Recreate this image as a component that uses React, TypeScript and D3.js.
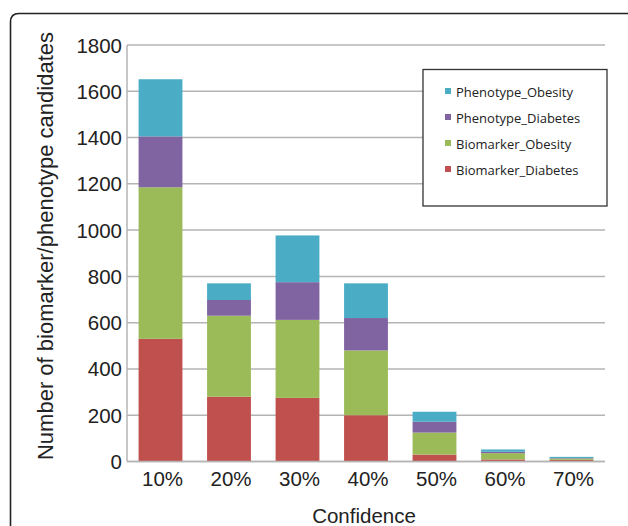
import React from "react";
import * as d3 from "d3";

const categories = ["10%", "20%", "30%", "40%", "50%", "60%", "70%"];
const biomarkerDiabetes = [530, 280, 275, 200, 30, 9, 7];
const biomarkerObesity = [655, 350, 337, 280, 95, 27, 6];
const phenotypeDiabetes = [220, 68, 163, 140, 47, 6, 2];
const phenotypeObesity = [247, 72, 202, 150, 43, 10, 5];
const yTicks = [0, 200, 400, 600, 800, 1000, 1200, 1400, 1600, 1800];
const seriesNames = ["Biomarker_Diabetes", "Biomarker_Obesity", "Phenotype_Diabetes", "Phenotype_Obesity"];
const seriesColors = ["#C0504D", "#9BBB59", "#8064A2", "#4BACC6"];

export default function App() {
  const W = 628, H = 526;
  const axisX = 127, plotRight = 605;
  const rows = categories.map((c, i) => ({
    cat: c,
    Biomarker_Diabetes: biomarkerDiabetes[i],
    Biomarker_Obesity: biomarkerObesity[i],
    Phenotype_Diabetes: phenotypeDiabetes[i],
    Phenotype_Obesity: phenotypeObesity[i],
  }));
  const stacked = d3.stack<any>().keys(seriesNames)(rows);
  const x = d3.scaleBand().domain(categories).range([126.25, 605.75]).paddingInner(0.36).paddingOuter(0.18);
  const y = d3.scaleLinear().domain([0, 1800]).range([461.5, 45]);
  const font = "'Liberation Sans', Arial, sans-serif";
  const legendFont = "'Open Sans', 'Noto Sans', sans-serif";
  const legendOrder = [3, 2, 1, 0];

  return (
    <svg width={W} height={H} style={{ position: "absolute", left: 0, top: 0 }}>
      <rect width={W} height={H} fill="#fff" />
      <path d={`M10.5,540 L10.5,22 Q10.5,13.5 19,13.5 L640,13.5`} fill="none" stroke="#222" strokeWidth={1.6} />
      {yTicks.map((t) => (
        <g key={t}>
          <line x1={axisX} x2={plotRight} y1={y(t)} y2={y(t)} stroke="#b4b4b4" strokeWidth={1.5} />
          <text x={122} y={y(t) + 7.5} textAnchor="end" fontFamily={font} fontSize={20.5} fill="#222">{t}</text>
        </g>
      ))}
      <line x1={axisX} x2={axisX} y1={y(1800)} y2={y(0)} stroke="#b4b4b4" strokeWidth={1.5} />
      {stacked.map((s, si) => (
        <g key={s.key} fill={seriesColors[si]}>
          {s.map((d: any, i: number) => (
            <rect key={i} x={x(categories[i])} width={x.bandwidth()} y={y(d[1])} height={Math.max(0, y(d[0]) - y(d[1]))} />
          ))}
        </g>
      ))}
      <line x1={axisX} x2={plotRight} y1={y(0)} y2={y(0)} stroke="#b4b4b4" strokeWidth={1.5} />
      {categories.map((c) => (
        <text key={c} x={(x(c) as number) + x.bandwidth() / 2 + 2} y={486} textAnchor="middle" fontFamily={font} fontSize={20.5} fill="#222">{c}</text>
      ))}
      <text x={364} y={523} textAnchor="middle" fontFamily={font} fontSize={20.5} fill="#222">Confidence</text>
      <text transform={`translate(53,246) rotate(-90)`} textAnchor="middle" fontFamily={font} fontSize={22} fill="#222">Number of biomarker/phenotype candidates</text>
      <rect x={423} y={69.5} width={184} height={136.5} fill="#fff" stroke="#333" strokeWidth={1.3} />
      {legendOrder.map((si, k) => (
        <g key={si} transform={`translate(445,${97 + k * 26})`}>
          <rect x={0} y={-9} width={6} height={6} fill={seriesColors[si]} />
          <text x={11} y={0} fontFamily={legendFont} fontSize={13} fill="#222">{seriesNames[si]}</text>
        </g>
      ))}
    </svg>
  );
}
